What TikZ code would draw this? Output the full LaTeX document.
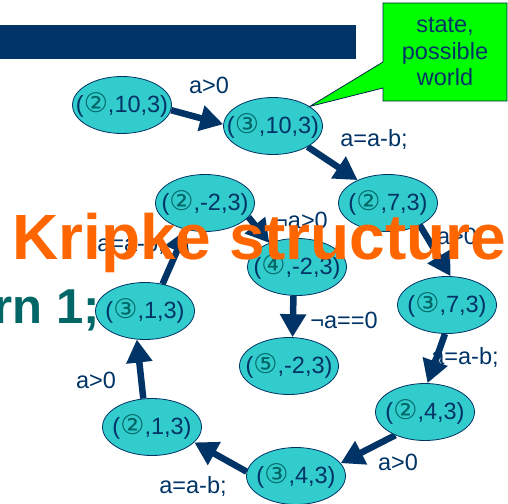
\documentclass[tikz,border=0pt]{standalone}
\usepackage{fontspec}
\setmainfont{Liberation Sans}
\newfontfamily\symfont{DejaVu Sans}
\usetikzlibrary{arrows.meta,shapes.geometric,shapes.callouts,backgrounds}
\definecolor{navy}{HTML}{003366}
\definecolor{statefill}{HTML}{33CCCC}
\definecolor{digitteal}{HTML}{006666}
\definecolor{kripkeorange}{HTML}{FF6600}
\definecolor{codeteal}{HTML}{006666}
\definecolor{notegreen}{HTML}{00FF00}
% program counter as a circled digit
\newcommand\pcmark[1]{{\symfont\fontsize{27}{26}\selectfont\color{digitteal}#1}}
% state label: (pc,a,b), kept out of the ellipse size computation
\newcommand\worldtxt[2]{\makebox[0pt]{(\pcmark{#1},#2)}}

\begin{document}
\begin{tikzpicture}[x=1pt,y=-1pt,
  world/.style={ellipse, draw=navy, line width=0.8pt, fill=statefill,
    minimum width=99pt, minimum height=57pt, inner sep=0pt, text=navy,
    font=\fontsize{23.5}{26}\selectfont},
  move/.style={draw=navy, line width=6.5pt, -{Triangle[length=23pt,width=25pt]}},
  guard/.style={text=navy, inner sep=0pt, font=\fontsize{23.5}{26}\selectfont},
  note/.style={rectangle callout, draw=navy!70!black, line width=0.8pt,
    fill=notegreen, text=navy, align=center, inner sep=0pt,
    minimum width=124pt, minimum height=98pt, callout pointer width=26pt,
    font=\fontsize{23.5}{26.5}\selectfont}
]
\useasboundingbox (0,0) rectangle (508,503);

% states of the program
\node[world] (s1)  at (122,105) {\worldtxt{②}{10,3}};
\node[world] (s2)  at (273,126) {\worldtxt{③}{10,3}};
\node[world] (s3)  at (388,203) {\worldtxt{②}{7,3}};
\node[world] (s4)  at (447,305) {\worldtxt{③}{7,3}};
\node[world] (s5)  at (425,412) {\worldtxt{②}{4,3}};
\node[world] (s6)  at (296,476) {\worldtxt{③}{4,3}};
\node[world] (s7)  at (152,427) {\worldtxt{②}{1,3}};
\node[world] (s8)  at (145,311) {\worldtxt{③}{1,3}};
\node[world] (s9)  at (205,203) {\worldtxt{②}{-2,3}};
\node[world] (s10) at (297,267) {\worldtxt{④}{-2,3}};
\node[world] (s11) at (289,366) {\worldtxt{⑤}{-2,3}};

\begin{scope}[on background layer]
  % slide title bar
  \fill[navy] (0,25) rectangle (356,59);
  % transitions
  \draw[move] (s1.-6)   -- (s2.178);
  \draw[move] (s2.-31)  -- (s3.143);
  \draw[move] (s3.-35)  -- (s4.83);
  \draw[move] (s4.-94)  -- (s5.85);
  \draw[move] (s5.-142) -- (s6.16);
  \draw[move] (s6.175)  -- (s7.-20);
  \draw[move] (s7.107)  -- (s8.-106);
  \draw[move] (s8.57)   -- (s9.-125);
  \draw[move] (s9.-18)  -- (s10.139);
  \draw[move] (s10.-97) -- (s11.83);
\end{scope}

% transition guards and assignments
\node[guard] (g1)  at (209,85)  {a>0};
\node[guard] (g2)  at (374,139) {a=a-b;};
\node[guard] (g3)  at (457,236) {a>0};
\node[guard] (g4)  at (465,357) {a=a-b;};
\node[guard] (g5)  at (398,462) {a>0};
\node[guard] (g6)  at (193,486) {a=a-b;};
\node[guard] (g7)  at (96,380)  {a>0};
\node[guard] (g8)  at (131,244) {a=a-b;};
\node[guard] (g9)  at (301,220) {¬a>0};
\node[guard] (g10) at (344,320) {¬a==0};

% code fragment
\node[anchor=base east, inner sep=0pt, text=codeteal,
  font=\bfseries\fontsize{49}{55}\selectfont] (code) at (100,323) {rn 1;};

% title
\node[anchor=base west, inner sep=0pt, text=kripkeorange,
  font=\bfseries\fontsize{64}{70}\selectfont] (title) at (12,259) {Kripke structure};

% annotation
\node[note, callout absolute pointer={(s2.28)}] (worldnote) at (445,52)
  {state,\\possible\\world};
\end{tikzpicture}
\end{document}
